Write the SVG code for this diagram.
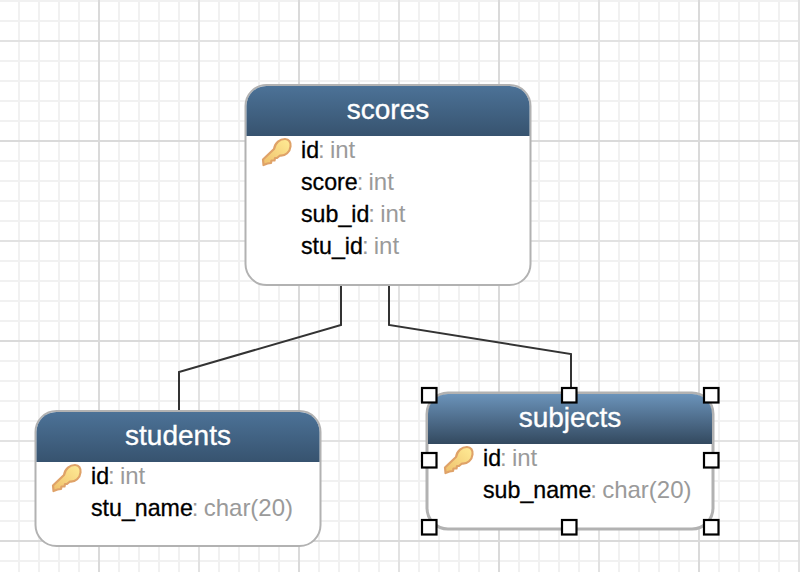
<svg xmlns="http://www.w3.org/2000/svg" xmlns:xlink="http://www.w3.org/1999/xlink" width="800" height="572" viewBox="0 0 800 572">
<style>
.g1{stroke:#f1f1f1;stroke-width:2}
.g2{stroke:#e2e2e2;stroke-width:2}
.g3{stroke:#dadada;stroke-width:2}
.box{fill:#fff;stroke:#b2b2b2;stroke-width:2}
.sel{stroke-width:3}
text{font-family:"Liberation Sans",Arial,sans-serif}
.title{font-size:28px;fill:#fff;text-anchor:middle;stroke:#fff;stroke-width:.35}
.row{font-size:23.2px;fill:#000;stroke:#000;stroke-width:.3}
.ty{font-size:24px;fill:#9a9a9a;stroke:none;word-spacing:-1.5px}
.conn{fill:none;stroke:#333;stroke-width:2}
.h{fill:#fff;stroke:#000;stroke-width:2.2}
</style>
<defs>
<linearGradient id="hd" x1="0" y1="0" x2="0" y2="1"><stop offset="0" stop-color="#4c7297"/><stop offset="1" stop-color="#37536f"/></linearGradient>
<linearGradient id="hdSel" x1="0" y1="0" x2="0" y2="1"><stop offset="0" stop-color="#6b93ba"/><stop offset="1" stop-color="#33495f"/></linearGradient>
<linearGradient id="keyF" x1="0" y1="1" x2="1" y2="0"><stop offset="0" stop-color="#efc06c"/><stop offset="1" stop-color="#ffec96"/></linearGradient>
<path id="key" d="M1.500 27 L1 21.500 L12 11 C13 4.500 18 1 23 1 C27 1 29 4 28.500 8.500 C28 14 23.500 18 18 17.500 L15 20 L13 20 L12.500 22.500 L9.500 22.500 L9 25 L5.500 25.500 Z" fill="url(#keyF)" stroke="#dfa268" stroke-width="2.200" stroke-linejoin="round"/>
</defs>
<g id="grid">
<path class="g1" d="M19 0V572M39 0V572M59 0V572M79 0V572M119 0V572M139 0V572M159 0V572M179 0V572M219 0V572M239 0V572M259 0V572M279 0V572M319 0V572M339 0V572M359 0V572M379 0V572M419 0V572M439 0V572M459 0V572M479 0V572M519 0V572M539 0V572M559 0V572M579 0V572M619 0V572M639 0V572M659 0V572M679 0V572M719 0V572M739 0V572M759 0V572M779 0V572"/>
<path class="g1" d="M0 1H800M0 21H800M0 61H800M0 81H800M0 101H800M0 121H800M0 161H800M0 181H800M0 201H800M0 221H800M0 261H800M0 281H800M0 301H800M0 321H800M0 361H800M0 381H800M0 401H800M0 421H800M0 461H800M0 481H800M0 501H800M0 521H800M0 561H800"/>
<path class="g2" d="M199 0V572M399 0V572M599 0V572M799 0V572M0 41H800M0 241H800M0 441H800"/>
<path class="g3" d="M99 0V572M299 0V572M499 0V572M699 0V572M0 141H800M0 341H800M0 541H800"/>
</g>
<g id="connectors">
<path class="conn" d="M341 286V325L179 372V411"/>
<path class="conn" d="M389 286V325L571 354V388"/>
</g>
<g id="scores">
<rect class="box" x="245.500" y="85" width="285" height="200" rx="21"/>
<path d="M246.500 136V106A20 20 0 0 1 266.500 86H509.500A20 20 0 0 1 529.500 106V136Z" fill="url(#hd)"/>
<text class="title" x="388" y="118.500">scores</text>
<use xlink:href="#key" href="#key" x="262" y="138"/>
<text class="row" x="301" y="157.500">id<tspan class="ty" dx="-1">: int</tspan></text>
<text class="row" x="301" y="189.500">score<tspan class="ty" dx="-1">: int</tspan></text>
<text class="row" x="301" y="221.500">sub_id<tspan class="ty" dx="-1">: int</tspan></text>
<text class="row" x="301" y="253.500">stu_id<tspan class="ty" dx="-1">: int</tspan></text>
</g>
<g id="students">
<rect class="box" x="35.500" y="411" width="285" height="135" rx="21"/>
<path d="M36.500 462V432A20 20 0 0 1 56.500 412H299.500A20 20 0 0 1 319.500 432V462Z" fill="url(#hd)"/>
<text class="title" x="178" y="444.500">students</text>
<use xlink:href="#key" href="#key" x="52" y="464"/>
<text class="row" x="91" y="483.500">id<tspan class="ty" dx="-1">: int</tspan></text>
<text class="row" x="91" y="515.500">stu_name<tspan class="ty" dx="-1">: char(20)</tspan></text>
</g>
<g id="subjects">
<rect class="box sel" x="427" y="393" width="286" height="136" rx="21"/>
<path d="M428 444V414A20 20 0 0 1 448 394H692A20 20 0 0 1 712 414V444Z" fill="url(#hdSel)"/>
<text class="title" x="570" y="426.500">subjects</text>
<use xlink:href="#key" href="#key" x="444" y="446"/>
<text class="row" x="483" y="465.500">id<tspan class="ty" dx="-1">: int</tspan></text>
<text class="row" x="483" y="497.500">sub_name<tspan class="ty" dx="-1">: char(20)</tspan></text>
<g id="handles">
<rect class="h" x="422" y="388" width="14.500" height="14.500"/>
<rect class="h" x="562" y="388" width="14.500" height="14.500"/>
<rect class="h" x="704" y="388" width="14.500" height="14.500"/>
<rect class="h" x="422" y="453" width="14.500" height="14.500"/>
<rect class="h" x="704" y="453" width="14.500" height="14.500"/>
<rect class="h" x="422" y="520" width="14.500" height="14.500"/>
<rect class="h" x="562" y="520" width="14.500" height="14.500"/>
<rect class="h" x="704" y="520" width="14.500" height="14.500"/>
</g>
</g>
</svg>
